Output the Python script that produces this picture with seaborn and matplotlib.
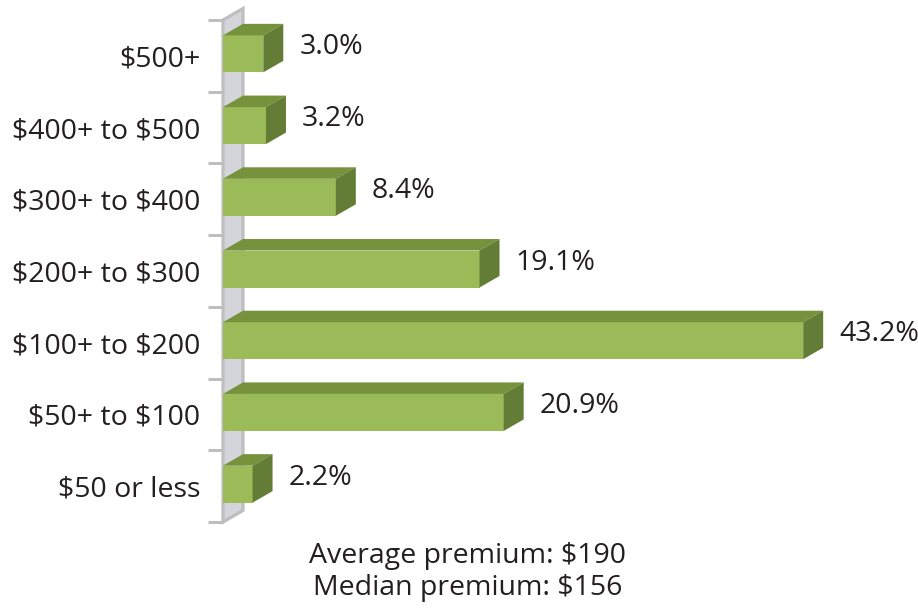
import matplotlib
matplotlib.use("Agg")
import matplotlib.pyplot as plt
import seaborn as sns
import pandas as pd
from matplotlib.patches import Polygon

# Distribution of premiums by band (share of policies, %)
premium_bands = ["$500+", "$400+ to $500", "$300+ to $400", "$200+ to $300",
                 "$100+ to $200", "$50+ to $100", "$50 or less"]
share_pct = [3.0, 3.2, 8.4, 19.1, 43.2, 20.9, 2.2]
average_premium = 190
median_premium = 156

df = pd.DataFrame({"band": premium_bands, "share": share_pct})

sns.set_theme(style="white")
plt.rcParams["font.family"] = ["Open Sans", "DejaVu Sans"]

FRONT = "#9bbb59"
TOP = "#76923c"
SIDE = "#647d36"
WALL_FILL = "#d4d5db"
WALL_EDGE = "#bebec0"
TEXT = "#231f20"
FS = 20.5

W, H, DPI = 918, 610, 100
fig = plt.figure(figsize=(W / DPI, H / DPI), dpi=DPI)
fig.patch.set_facecolor("white")

# plot box in pixels
ax_left, ax_top, ax_bottom = 223, 20, 522
x_max = 50
px_per_pct = 13.43
ax_width = x_max * px_per_pct
ax = fig.add_axes([ax_left / W, 1 - ax_bottom / H, ax_width / W, (ax_bottom - ax_top) / H])
ax.set_facecolor("none")

n = len(premium_bands)
px_per_cat = (ax_bottom - ax_top) / n

# 3D depth and bar thickness, converted to data units
depth_x = 20 / px_per_pct
depth_y = 11.5 / px_per_cat
bar_h = 37 / px_per_cat
lift = 2 / px_per_cat

sns.barplot(data=df, x="share", y="band", order=premium_bands, orient="h",
            color=FRONT, saturation=1, width=bar_h, linewidth=0, ax=ax, zorder=3)

ax.set_xlim(0, x_max)
ax.set_ylim(n - 0.5, -0.5)

# back wall
wall = Polygon([(0, -0.5), (depth_x, -0.5 - depth_y), (depth_x, n - 0.5 - depth_y), (0, n - 0.5)],
               closed=True, facecolor=WALL_FILL, edgecolor=WALL_EDGE, linewidth=2.3,
               clip_on=False, zorder=1)
ax.add_patch(wall)

# top and side faces of each bar, plus value labels
for patch, v in zip(ax.patches, share_pct):
    if patch is wall:
        continue
    patch.set_y(patch.get_y() - lift)
    y0 = patch.get_y()
    y1 = y0 + patch.get_height()
    w = patch.get_width()
    top = Polygon([(0, y0), (w, y0), (w + depth_x, y0 - depth_y), (depth_x, y0 - depth_y)],
                  closed=True, facecolor=TOP, edgecolor="none", clip_on=False, zorder=3)
    side = Polygon([(w, y0), (w + depth_x, y0 - depth_y), (w + depth_x, y1 - depth_y), (w, y1)],
                   closed=True, facecolor=SIDE, edgecolor="none", clip_on=False, zorder=3)
    ax.add_patch(top)
    ax.add_patch(side)
    yc = (y0 + y1) / 2
    ax.text(w + depth_x + 16 / px_per_pct, yc + 0.5 / px_per_cat, f"{v:.1f}%",
            ha="left", va="baseline", fontsize=FS, color=TEXT, clip_on=False)

# category labels and tick marks
ax.set_yticks(range(n))
ax.set_yticklabels([b.replace("$", r"\$") for b in premium_bands], fontsize=FS, color=TEXT)
ax.set_yticks([k - 0.5 for k in range(n + 1)], minor=True)
ax.tick_params(axis="y", which="major", length=0, pad=16.5)
ax.tick_params(axis="y", which="minor", left=True, length=10.8, width=2.2, color=WALL_EDGE)
ax.set_ylabel("")
ax.set_xlabel("")
ax.xaxis.set_visible(False)
ax.grid(False)
for s in ax.spines.values():
    s.set_visible(False)

fig.text(468 / W, 1 - 563 / H, f"Average premium: \\${average_premium}",
         ha="center", va="baseline", fontsize=FS, color=TEXT)
fig.text(468 / W, 1 - 595 / H, f"Median premium: \\${median_premium}",
         ha="center", va="baseline", fontsize=FS, color=TEXT)

fig.savefig("out.png", dpi=DPI, facecolor="white")
